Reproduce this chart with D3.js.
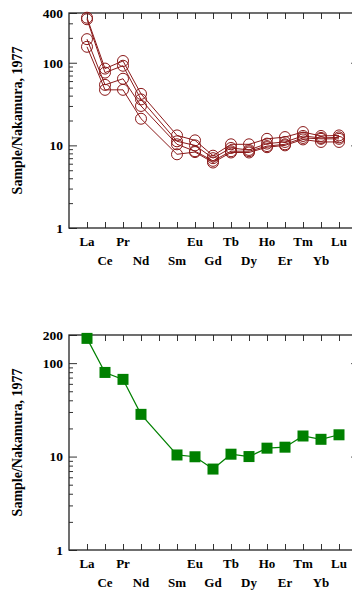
<!DOCTYPE html>
<html>
<head>
<meta charset="utf-8">
<script src="https://cdn.jsdelivr.net/npm/d3@7"></script>
<style>
body{margin:0;background:#fff;}
svg text{font-family:"Liberation Serif","Times New Roman",serif;font-weight:bold;}
</style>
</head>
<body>
<div id="canvas"></div>
<script>
// REE spider diagrams, chondrite normalised
var width = 352;
var height = 592;

var elements = ["La","Ce","Pr","Nd","Pm","Sm","Eu","Gd","Tb","Dy","Ho","Er","Tm","Yb","Lu"];
// index in elements of each value (Pm missing)
var idx = [0,1,2,3,5,6,7,8,9,10,11,12,13,14];

var seriesA = [351,85,105,42,13.2,11.5,7.5,10.3,10.3,12,12.6,14.5,13,13.2];
var seriesB = [336,76,92,36,11.2,10,7,9.3,8.8,10.5,11,13,12.3,12.5];
var seriesC = [193,54,64,30,10.3,8.5,6.5,8.5,8.5,9.8,10.3,12.3,12,12];
var seriesD = [156,47,47,21,7.8,8.3,6.2,8.2,8.2,9.5,10,11.8,11,11];
var topSeries = [seriesA,seriesB,seriesC,seriesD];

var bottomSeries = [184,79.5,67,28.3,10.4,9.95,7.35,10.6,10,12.3,12.6,16.6,15.3,17.1];

var topTicks = [1,10,100,400];
var bottomTicks = [1,10,100,200];

var svg = d3.select("#canvas").append("svg")
	.attr("width",width)
	.attr("height",height);

function panel(opts){
	var g = svg.append("g");
	var x = d3.scaleLinear().domain([0,16]).range([69,357]);
	var y = d3.scaleLog().domain([1,opts.ymax]).range([opts.bottom,opts.top]);

	// minor ticks
	var minors = [];
	[1,10,100].forEach(function(d){
		for(var k=2;k<=9;k++){ if(d*k<opts.ymax) minors.push(d*k); }
	});
	g.append("g")
		.attr("transform","translate(69,0)")
		.call(d3.axisLeft(y).tickValues(minors).tickSizeInner(-4).tickSizeOuter(0).tickFormat(""))
		.call(function(a){a.select(".domain").remove();a.selectAll("line").attr("stroke","#333");});

	// major left ticks + labels
	g.append("g")
		.attr("transform","translate(69,0)")
		.call(d3.axisLeft(y).tickValues(opts.ticks).tickSizeInner(-8).tickSizeOuter(0).tickPadding(6).tickFormat(d3.format("d")))
		.call(function(a){
			a.select(".domain").remove();
			a.selectAll("line").attr("stroke","#333");
			a.selectAll("text").style("font-size","13.5px").attr("fill","#000");
		});

	// right ticks
	g.append("g")
		.attr("transform","translate(357,0)")
		.call(d3.axisRight(y).tickValues([10,100]).tickSizeInner(-6).tickSizeOuter(0).tickFormat(""))
		.call(function(a){a.select(".domain").remove();a.selectAll("line").attr("stroke","#555");});

	// bottom and top ticks
	var xt = d3.range(1,16);
	g.append("g")
		.attr("transform","translate(0,"+opts.bottom+")")
		.call(d3.axisBottom(x).tickValues(xt).tickSizeInner(-6).tickSizeOuter(0).tickFormat(""))
		.call(function(a){a.select(".domain").remove();a.selectAll("line").attr("stroke","#333");});
	g.append("g")
		.attr("transform","translate(0,"+opts.top+")")
		.call(d3.axisTop(x).tickValues(xt).tickSizeInner(-6).tickSizeOuter(0).tickFormat(""))
		.call(function(a){a.select(".domain").remove();a.selectAll("line").attr("stroke","#333");});

	// frame
	g.append("rect")
		.attr("x",69).attr("y",opts.top)
		.attr("width",357-69).attr("height",opts.bottom-opts.top)
		.attr("fill","none").attr("stroke","#222").attr("stroke-width",1.3);

	// element labels, staggered
	g.selectAll("text.el")
		.data(elements)
		.enter()
		.append("text")
		.attr("class","el")
		.attr("x",function(d,i){return x(i+1);})
		.attr("y",function(d,i){return opts.bottom + (i%2==0 ? 18 : 37);})
		.attr("text-anchor","middle")
		.style("font-size","13px")
		.text(function(d){return d=="Pm" ? "" : d;});

	// y label
	var cy = (opts.top+opts.bottom)/2;
	g.append("text")
		.attr("transform","translate(22,"+cy+") rotate(-90)")
		.attr("text-anchor","middle")
		.style("font-size","14px")
		.text("Sample/Nakamura, 1977");

	var line = d3.line()
		.x(function(d,i){return x(idx[i]+1);})
		.y(function(d){return y(d);});

	return {g:g,x:x,y:y,line:line};
}

// top panel
var p1 = panel({top:13,bottom:228,ymax:400,ticks:topTicks});
var red = "#8b1a1a";
topSeries.forEach(function(s){
	p1.g.append("path")
		.datum(s)
		.attr("d",p1.line)
		.attr("fill","none")
		.attr("stroke",red)
		.attr("stroke-width",1);
	p1.g.selectAll(null)
		.data(s)
		.enter()
		.append("circle")
		.attr("cx",function(d,i){return p1.x(idx[i]+1);})
		.attr("cy",function(d){return p1.y(d);})
		.attr("r",5.5)
		.attr("fill","none")
		.attr("stroke",red)
		.attr("stroke-width",1);
});

// bottom panel
var p2 = panel({top:335,bottom:550,ymax:200,ticks:bottomTicks});
var green = "#008000";
p2.g.append("path")
	.datum(bottomSeries)
	.attr("d",p2.line)
	.attr("fill","none")
	.attr("stroke",green)
	.attr("stroke-width",1.2);
p2.g.selectAll(null)
	.data(bottomSeries)
	.enter()
	.append("rect")
	.attr("x",function(d,i){return p2.x(idx[i]+1)-5.5;})
	.attr("y",function(d){return p2.y(d)-5.5;})
	.attr("width",11)
	.attr("height",11)
	.attr("fill",green);
</script>
</body>
</html>
